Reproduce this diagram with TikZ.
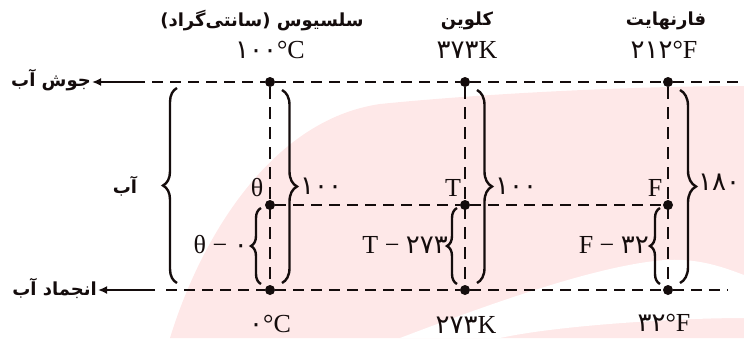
\documentclass[tikz,border=0pt]{standalone}
\usepackage{fontspec}
\setmainfont{Liberation Serif}
\newfontfamily\fa[Script=Arabic]{DejaVu Sans}
\TeXXeTstate=1
\usetikzlibrary{arrows.meta,decorations.pathreplacing}
\definecolor{ink}{HTML}{140C0C}
\definecolor{wmark}{HTML}{FEE8E8}

\begin{document}
\begin{tikzpicture}[x=1pt,y=-1pt,
  dot/.style={circle,fill=ink,inner sep=0pt,minimum size=10pt},
  level/.style={ink,line width=2.8pt,dash pattern=on 11pt off 7pt},
  column/.style={ink,line width=2.6pt,dash pattern=on 12pt off 8pt},
  bracket/.style={ink,line width=2.4pt,decorate,decoration={brace,amplitude=#1}},
  note/.style={font=\fontsize{26}{28}\selectfont,text=ink,inner sep=1pt},
  title/.style={font=\fa\bfseries\fontsize{18}{20}\selectfont,text=ink,inner sep=1pt},
  pointer/.style={-{Latex[length=9pt,width=8pt]},ink,line width=2.4pt}]
  \useasboundingbox (0,0) rectangle (744,338);
  % watermark
  \fill[wmark] (170,338) .. controls (200,240) and (270,120) .. (380,104) .. controls (500,92) and (650,86) .. (744,86) -- (744,338) -- cycle;
  \fill[white] (400,338) .. controls (500,300) and (600,265) .. (665,260) .. controls (700,258) and (725,268) .. (744,275) -- (744,318) .. controls (680,318) and (560,325) .. (500,338) -- cycle;
  % scale points
  \node[dot] (c1) at (270,82) {};
  \node[dot] (ct) at (270,205) {};
  \node[dot] (c0) at (270,290) {};
  \node[dot] (k1) at (465,82) {};
  \node[dot] (kt) at (465,205) {};
  \node[dot] (k0) at (465,290) {};
  \node[dot] (f1) at (668,82) {};
  \node[dot] (ft) at (668,205) {};
  \node[dot] (f0) at (668,290) {};
  % levels
  \coordinate (topstart) at (152,82);
  \coordinate (topend) at (744,82);
  \coordinate (botstart) at (166,290);
  \coordinate (botend) at (728,290);
  \draw[level] (topstart) -- (c1) -- (k1) -- (f1) -- (topend);
  \draw[level] (botstart) -- (c0) -- (k0) -- (f0) -- (botend);
  \draw[level] (ct) -- (kt) -- (ft);
  \draw[column] (c1) -- (c0);
  \draw[column] (k1) -- (k0);
  \draw[column] (f1) -- (f0);
  % left labels
  \node[title,anchor=east] (boil) at (92,80) {\beginR جوش آب\endR};
  \node[title,anchor=east] (freeze) at (98,288) {\beginR انجماد آب\endR};
  \node[title] (water) at (125,186) {\beginR آب\endR};
  \coordinate (boilfrom) at (145,82);
  \coordinate (freezefrom) at (155,290);
  \draw[pointer] (boilfrom) -- (boil.east |- boilfrom);
  \draw[pointer] (freezefrom) -- (freeze.east |- freezefrom);
  % headings
  \node[title] (cname) at (262,21) {\beginR سلسیوس (سانتی‌گراد)\endR};
  \node[title] (kname) at (467,21) {\beginR کلوین\endR};
  \node[title] (fname) at (666,21) {\beginR فارنهایت\endR};
  \node[note] (ctop) at (270,50) {{\fa ۱۰۰}°C};
  \node[note] (ktop) at (467,50) {{\fa ۳۷۳}K};
  \node[note] (ftop) at (664,50) {{\fa ۲۱۲}°F};
  \node[note,anchor=base] (cbot) at (270,332) {{\fa ۰}°C};
  \node[note,anchor=base] (kbot) at (466,333) {{\fa ۲۷۳}K};
  \node[note,anchor=base] (fbot) at (664,331) {{\fa ۳۲}°F};
  % braces
  \coordinate (wa) at (177,283);
  \coordinate (wb) at (177,88);
  \draw[bracket=14] (wa) -- (wb);
  \coordinate (ca) at (282,90);
  \coordinate (cb) at (282,283);
  \draw[bracket=15] (ca) -- (cb);
  \coordinate (ka) at (477,90);
  \coordinate (kb) at (477,283);
  \draw[bracket=15] (ka) -- (kb);
  \coordinate (fa) at (680,90);
  \coordinate (fb) at (680,283);
  \draw[bracket=16] (fa) -- (fb);
  \coordinate (csa) at (261,284);
  \coordinate (csb) at (261,208);
  \draw[bracket=10] (csa) -- (csb);
  \coordinate (ksa) at (457,284);
  \coordinate (ksb) at (457,208);
  \draw[bracket=10] (ksa) -- (ksb);
  \coordinate (fsa) at (660,284);
  \coordinate (fsb) at (660,208);
  \draw[bracket=10] (fsa) -- (fsb);
  % brace labels
  \node[note,anchor=west] (cspan) at (299,186) {\fa ۱۰۰};
  \node[note,anchor=west] (kspan) at (494,186) {\fa ۱۰۰};
  \node[note,anchor=west] (fspan) at (697,182) {\fa ۱۸۰};
  \node[note] (cvar) at (257,188) {θ};
  \node[note] (kvar) at (453,188) {T};
  \node[note] (fvar) at (655,188) {F};
  \node[note,anchor=east] (cdiff) at (249,245) {θ − {\fa ۰}};
  \node[note,anchor=east] (kdiff) at (449,245) {T − {\fa ۲۷۳}};
  \node[note,anchor=east] (fdiff) at (650,245) {F − {\fa ۳۲}};
\end{tikzpicture}
\end{document}
